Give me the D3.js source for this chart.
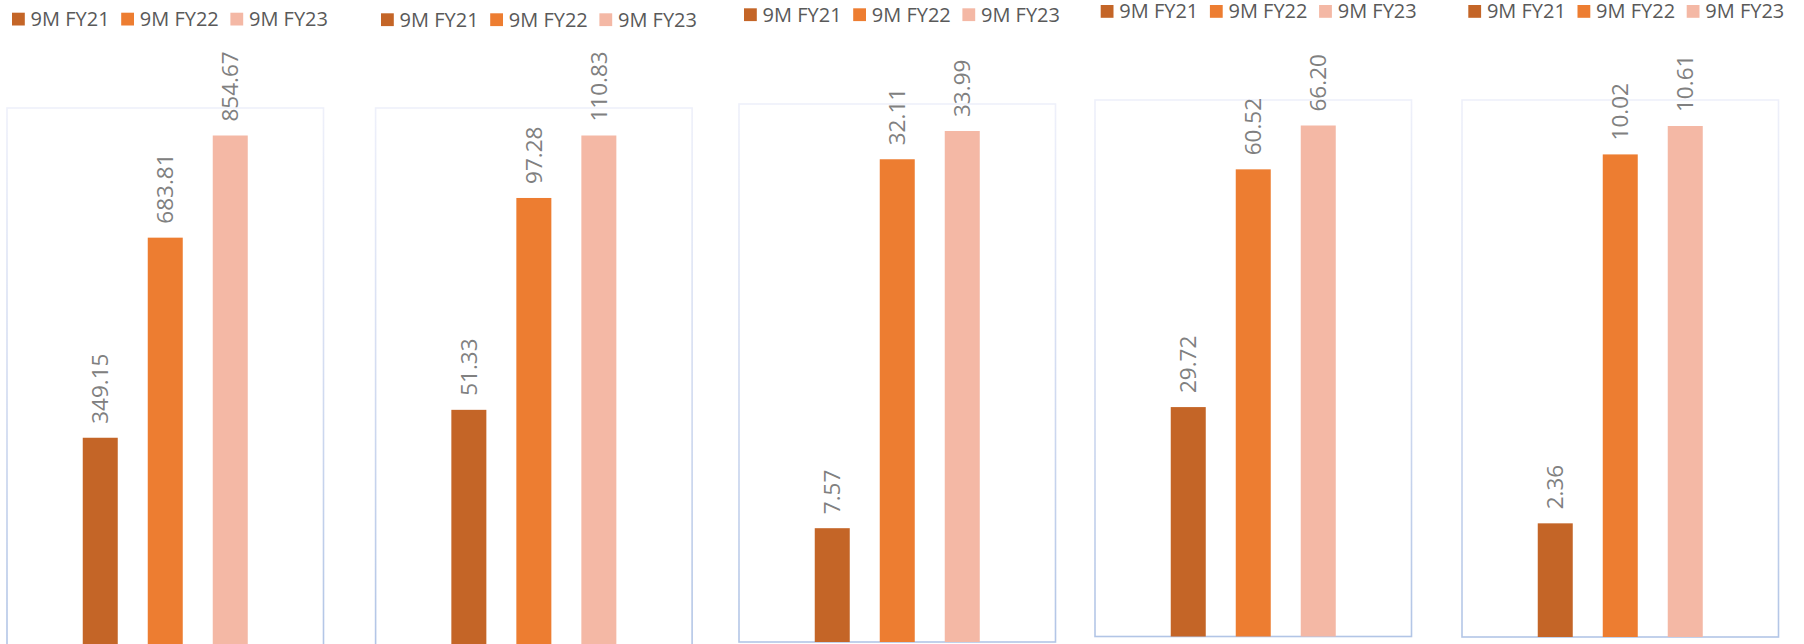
<!DOCTYPE html>
<html>
<head>
<meta charset="utf-8">
<script src="https://cdn.jsdelivr.net/npm/d3@7"></script>
<style>
  html, body { margin: 0; padding: 0; background: #ffffff; }
  svg { display: block; }
</style>
</head>
<body>
<svg id="chart" width="1804" height="644"></svg>
<script>
// Series shown in every panel
const seriesNames = ["9M FY21", "9M FY22", "9M FY23"];
const seriesColors = ["#c46527", "#ed7d31", "#f4b8a5"];

// One value per panel for each series
const fy21 = [349.15, 51.33, 7.57, 29.72, 2.36];
const fy22 = [683.81, 97.28, 32.11, 60.52, 10.02];
const fy23 = [854.67, 110.83, 33.99, 66.20, 10.61];

// Panel frames (plot boxes) and legend placement
const frameLeft   = [7, 375.6, 739, 1095, 1462];
const frameTop    = [108, 108, 104, 100, 100];
const frameBottom = [646.5, 646.5, 642, 636.5, 637];
const frameWidth  = 316.5;
const legendTop   = [12.7, 13.3, 8.3, 5, 5];
const legendLeft  = [12, 381, 744, 1100.7, 1468.3];

const barMaxHeight = 511;   // height of the tallest bar in each panel
const labelGap = 14;

const svg = d3.select("#chart");
const defs = svg.append("defs");

const labelFont = "'Open Sans', 'DejaVu Sans', sans-serif";

frameLeft.forEach((left, i) => {
  const values = [fy21[i], fy22[i], fy23[i]];
  const top = frameTop[i];
  const bottom = frameBottom[i];
  const right = left + frameWidth;
  const g = svg.append("g").attr("class", "panel");

  // Frame stroke fades from pale lavender at the top to soft blue at the bottom
  const gradId = "frameGrad" + i;
  const grad = defs.append("linearGradient")
    .attr("id", gradId)
    .attr("gradientUnits", "userSpaceOnUse")
    .attr("x1", 0).attr("y1", top)
    .attr("x2", 0).attr("y2", bottom);
  grad.append("stop").attr("offset", "0%").attr("stop-color", "#eef0fa");
  grad.append("stop").attr("offset", "45%").attr("stop-color", "#d6def2");
  grad.append("stop").attr("offset", "100%").attr("stop-color", "#b2c5e6");

  g.append("rect")
    .attr("x", left).attr("y", top)
    .attr("width", frameWidth).attr("height", bottom - top)
    .attr("fill", "none")
    .attr("stroke", `url(#${gradId})`)
    .attr("stroke-width", 1.6);

  // Scales
  const x = d3.scaleBand()
    .domain(seriesNames)
    .range([left, right])
    .paddingInner(30 / 65)
    .paddingOuter(((frameWidth / 65) - 3 + 30 / 65) / 2);

  const y = d3.scaleLinear()
    .domain([0, d3.max(values)])
    .range([bottom, bottom - barMaxHeight]);

  const rows = seriesNames.map((name, k) => ({ name, value: values[k], color: seriesColors[k] }));

  // Bars
  g.selectAll("rect.bar")
    .data(rows)
    .join("rect")
    .attr("class", "bar")
    .attr("x", d => x(d.name))
    .attr("y", d => y(d.value))
    .attr("width", x.bandwidth())
    .attr("height", d => y(0) - y(d.value))
    .attr("fill", d => d.color);

  // Rotated value labels above each bar
  g.selectAll("text.value")
    .data(rows)
    .join("text")
    .attr("class", "value")
    .attr("transform", d => `translate(${x(d.name) + x.bandwidth() / 2},${y(d.value) - labelGap}) rotate(-90)`)
    .attr("dy", "0.36em")
    .attr("text-anchor", "start")
    .attr("font-family", labelFont)
    .attr("font-size", 22.5)
    .attr("fill", "#808080")
    .text(d => d.value.toFixed(2));

  // Legend
  const legend = g.append("g")
    .attr("transform", `translate(${legendLeft[i]},${legendTop[i]})`);
  const item = legend.selectAll("g.item")
    .data(rows)
    .join("g")
    .attr("class", "item")
    .attr("transform", (d, k) => `translate(${k * 109.2},0)`);
  item.append("rect")
    .attr("width", 12.8).attr("height", 12.8)
    .attr("fill", d => d.color);
  item.append("text")
    .attr("x", 18.6)
    .attr("y", 13.4)
    .attr("font-family", labelFont)
    .attr("font-size", 20)
    .attr("fill", "#595959")
    .text(d => d.name);
});
</script>
</body>
</html>
